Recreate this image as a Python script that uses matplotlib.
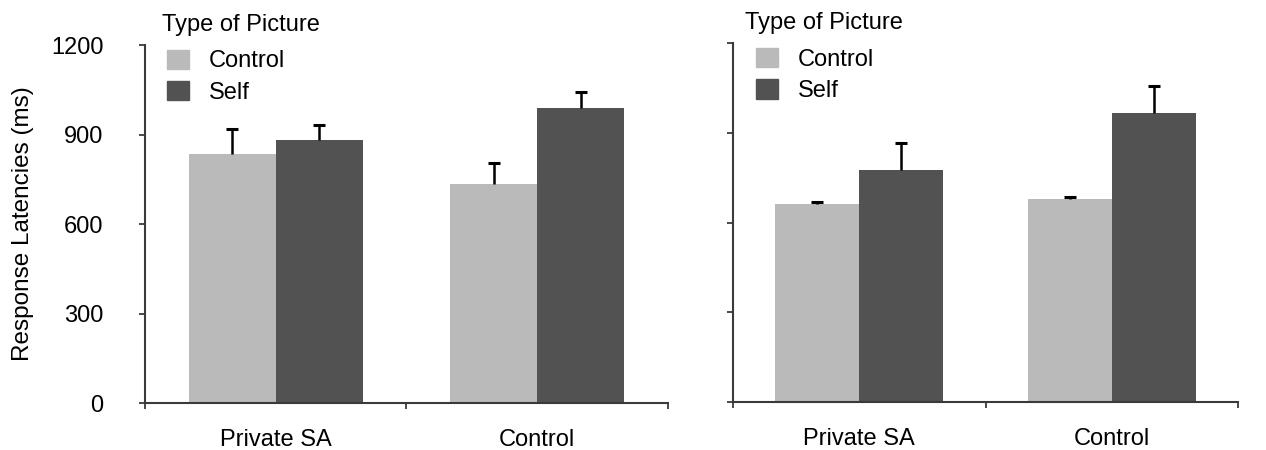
import numpy as np
import matplotlib.pyplot as plt
from matplotlib.patches import Patch

plt.rcParams['font.family'] = ['Liberation Sans', 'DejaVu Sans']

# condition groups on the x axis
groups = ['Private SA', 'Control']
series = ['Control', 'Self']

# mean response latencies (ms) and upper error, left panel
left_control = [835, 735]
left_self = [880, 988]
left_control_err = [82, 70]
left_self_err = [53, 53]

# right panel
right_control = [663, 679]
right_self = [775, 965]
right_control_err = [7, 7]
right_self_err = [92, 92]

light = '#bababa'
dark = '#525252'
axis_col = '#3a3a3a'
fs = 17


def draw_panel(ax, ctrl, self_, ctrl_err, self_err, show_ylabels, title_x, leg_x):
    x = np.arange(len(groups))
    w = 1 / 3
    for offs, vals, errs, col in [(-w / 2, ctrl, ctrl_err, light),
                                  (w / 2, self_, self_err, dark)]:
        ax.bar(x + offs, vals, width=w, color=col, zorder=2)
        eb = ax.errorbar(x + offs, vals, yerr=[np.zeros(len(vals)), errs],
                         fmt='none', ecolor='black', elinewidth=1.8,
                         capsize=4.5, capthick=2.2, zorder=3)
        eb[1][0].set_visible(False)  # lower cap sits on the bar top

    ax.set_xlim(-0.5, len(groups) - 0.5)
    ax.set_ylim(0, 1200)
    ax.set_xticks(x)
    ax.set_xticklabels(groups, fontsize=fs)
    ax.tick_params(axis='x', which='major', length=0, pad=19)
    ax.set_xticks([-0.5, 0.5, 1.5], minor=True)
    ax.tick_params(axis='x', which='minor', length=4, width=1.3, color=axis_col)
    ax.set_yticks([0, 300, 600, 900, 1200])
    ax.tick_params(axis='y', length=4, width=1.3, color=axis_col, labelsize=fs, pad=26)
    if not show_ylabels:
        ax.set_yticklabels([])
    for s in ['top', 'right']:
        ax.spines[s].set_visible(False)
    for s in ['left', 'bottom']:
        ax.spines[s].set_color(axis_col)
        ax.spines[s].set_linewidth(1.5)

    ax.text(title_x, 1.056, 'Type of Picture', transform=ax.transAxes,
            fontsize=fs, ha='left', va='center')
    handles = [Patch(color=light, label=series[0]), Patch(color=dark, label=series[1])]
    ax.legend(handles=handles, loc='upper left', bbox_to_anchor=(leg_x, 0.987),
              frameon=False, fontsize=fs, handlelength=0.92, handleheight=0.88,
              handletextpad=0.85, labelspacing=0.36, borderaxespad=0, borderpad=0)


fig = plt.figure(figsize=(12.66, 4.5), dpi=100)
ax1 = fig.add_axes([0.1145, 0.1044, 0.4131, 0.7956])
ax2 = fig.add_axes([0.579, 0.1073, 0.399, 0.7965])

draw_panel(ax1, left_control, left_self, left_control_err, left_self_err, True, 0.033, 0.042)
draw_panel(ax2, right_control, right_self, right_control_err, right_self_err, False, 0.024, 0.046)
ax1.set_ylabel('Response Latencies (ms)', fontsize=17.5)
ax1.yaxis.set_label_coords(-0.213, 0.5)

fig.savefig('out.png', dpi=100)
